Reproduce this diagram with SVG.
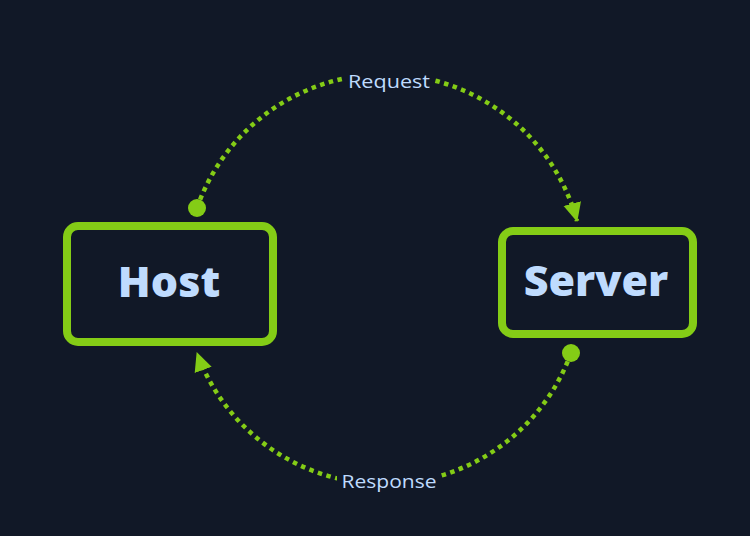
<svg xmlns="http://www.w3.org/2000/svg" width="750" height="536" viewBox="0 0 750 536">
  <defs>
    <style>
      .box { fill: #111827; stroke: #84cc16; stroke-width: 8; }
      .title { font-family: "Open Sans", "Liberation Sans", sans-serif; font-weight: 800; font-size: 43px; fill: #bfdbfe; text-anchor: middle; }
      .edge { fill: none; stroke: #84cc16; stroke-width: 4.5; stroke-dasharray: 4.5 4.5; }
      .lbl { font-family: "Open Sans", "Liberation Sans", sans-serif; font-size: 18px; fill: #bfdbfe; text-anchor: middle; }
      .lblbg { fill: #111827; }
    </style>
    <marker id="dot" viewBox="0 0 20 20" refX="10" refY="10" markerWidth="20" markerHeight="20" markerUnits="userSpaceOnUse">
      <circle cx="10" cy="10" r="9" fill="#84cc16"/>
    </marker>
    <marker id="arrow" viewBox="0 0 20 20" refX="18" refY="10" markerWidth="20" markerHeight="20" markerUnits="userSpaceOnUse" orient="auto">
      <path d="M0,1 L19,10 L0,19 Z" fill="#84cc16"/>
    </marker>
  </defs>
  <rect width="750" height="536" fill="#111827"/>

  <g id="connectors">
    <path class="edge" d="M 197 208 A 199 199 0 0 1 577 221" marker-start="url(#dot)" marker-end="url(#arrow)"/>
    <path class="edge" d="M 571 353 A 199 199 0 0 1 197 353" marker-start="url(#dot)" marker-end="url(#arrow)"/>
    <g id="label-request">
      <rect class="lblbg" x="344" y="68" width="90" height="26"/>
      <text class="lbl" x="389" y="88" textLength="82" lengthAdjust="spacingAndGlyphs">Request</text>
    </g>
    <g id="label-response">
      <rect class="lblbg" x="337" y="469" width="104" height="26"/>
      <text class="lbl" x="389" y="488" textLength="95" lengthAdjust="spacingAndGlyphs">Response</text>
    </g>
  </g>

  <g id="host">
    <rect class="box" x="67" y="226" width="206" height="116" rx="11"/>
    <text class="title" x="169" y="297">Host</text>
  </g>

  <g id="server">
    <rect class="box" x="502" y="231" width="191" height="103" rx="11"/>
    <text class="title" x="596" y="296">Server</text>
  </g>
</svg>
